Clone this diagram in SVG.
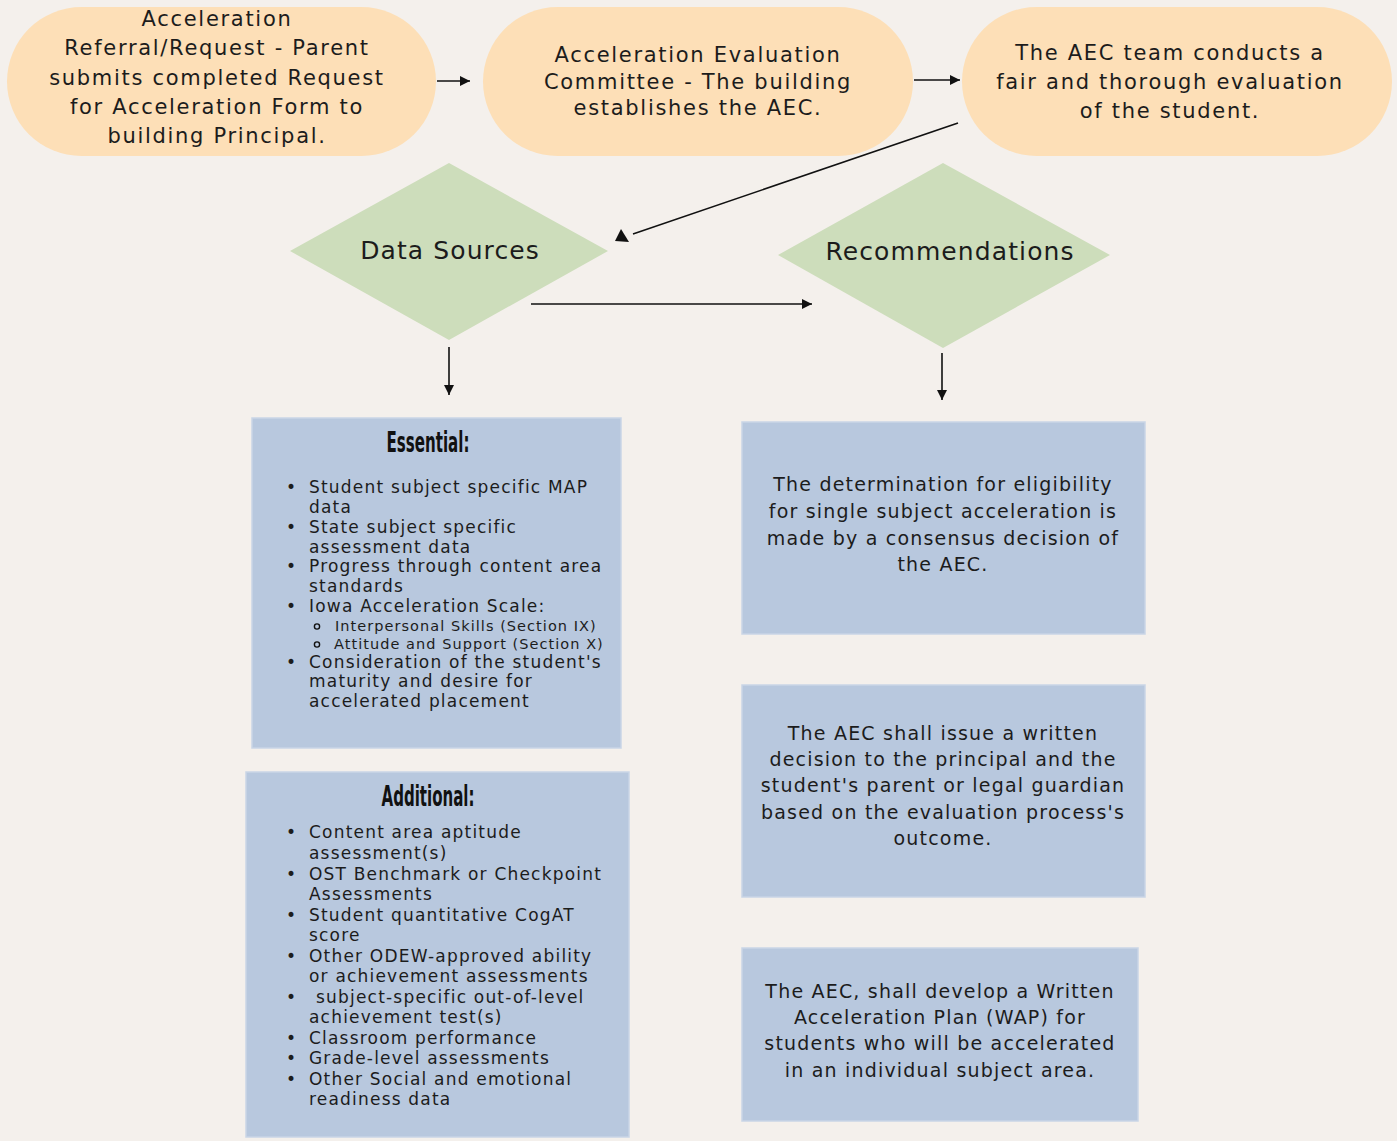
<svg xmlns="http://www.w3.org/2000/svg" width="1397" height="1141" viewBox="0 0 1397 1141">
<style>
.bg{fill:#F4F0EC}
.pill{fill:#FDDFB7}
.dia{fill:#CDDDBB}
.box{fill:#B8C8DE;stroke:#C9D5E6;stroke-width:1.5}
.t{font-family:"DejaVu Sans","Liberation Sans",sans-serif;fill:#1c1c1c}
.pt{font-size:21px;letter-spacing:1.7px;text-anchor:middle}
.dt{font-size:25px;letter-spacing:1.1px;text-anchor:middle}
.bt{font-size:17px;letter-spacing:1.2px}
.st{font-size:14.5px;letter-spacing:1.05px}
.rt{font-size:19px;letter-spacing:1.2px;text-anchor:middle}
.h{font-family:"DejaVu Sans Condensed","DejaVu Sans",sans-serif;font-weight:bold;font-size:28px;fill:#111;text-anchor:middle}
.ln{stroke:#111;stroke-width:1.6;fill:none}
</style>
<defs>
<marker id="ah" viewBox="0 0 10 10" refX="10" refY="5" markerWidth="10" markerHeight="10" markerUnits="userSpaceOnUse" orient="auto">
<path d="M0,0 L10,5 L0,10 Z" fill="#111"/>
</marker>
</defs>
<rect class="bg" x="0" y="0" width="1397" height="1141"/>

<g id="connectors">
<line class="ln" x1="437" y1="81" x2="470" y2="81" marker-end="url(#ah)"/>
<line class="ln" x1="914" y1="80" x2="960" y2="80" marker-end="url(#ah)"/>
<line class="ln" x1="958" y1="123" x2="633" y2="234"/>
<polygon points="621,229 615,241 629,242" fill="#111"/>
<line class="ln" x1="531" y1="304" x2="812" y2="304" marker-end="url(#ah)"/>
<line class="ln" x1="449" y1="347" x2="449" y2="395" marker-end="url(#ah)"/>
<line class="ln" x1="942" y1="353" x2="942" y2="400" marker-end="url(#ah)"/>
</g>

<g id="n1">
<rect class="pill" x="7" y="7" width="429" height="149" rx="74.5"/>
<text class="t pt" x="217"><tspan x="217" y="26">Acceleration</tspan><tspan x="217" y="55">Referral/Request - Parent</tspan><tspan x="217" y="85">submits completed Request</tspan><tspan x="217" y="114">for Acceleration Form to</tspan><tspan x="217" y="143">building Principal.</tspan></text>
</g>

<g id="n2">
<rect class="pill" x="483" y="7" width="430" height="149" rx="74.5"/>
<text class="t pt"><tspan x="698" y="62">Acceleration Evaluation</tspan><tspan x="698" y="89">Committee - The building</tspan><tspan x="698" y="115">establishes the AEC.</tspan></text>
</g>

<g id="n3">
<rect class="pill" x="962" y="7" width="430" height="149" rx="74.5"/>
<text class="t pt"><tspan x="1170" y="60">The AEC team conducts a</tspan><tspan x="1170" y="89">fair and thorough evaluation</tspan><tspan x="1170" y="118">of the student.</tspan></text>
</g>

<g id="n4">
<polygon class="dia" points="449,163 608,251 449,340 290,251"/>
<text class="t dt" x="450" y="259">Data Sources</text>
</g>

<g id="n5">
<polygon class="dia" points="943,163 1110,255 943,348 778,255"/>
<text class="t dt" x="950" y="260">Recommendations</text>
</g>

<g id="n6">
<rect class="box" x="252" y="418" width="369" height="330"/>
<text class="h" x="428" y="452" textLength="83" lengthAdjust="spacingAndGlyphs">Essential:</text>
<g class="t bt">
<text x="286" y="493">•</text><text x="309" y="493">Student subject specific MAP</text>
<text x="309" y="513">data</text>
<text x="286" y="533">•</text><text x="309" y="533">State subject specific</text>
<text x="309" y="553">assessment data</text>
<text x="286" y="572">•</text><text x="309" y="572">Progress through content area</text>
<text x="309" y="592">standards</text>
<text x="286" y="612">•</text><text x="309" y="612">Iowa Acceleration Scale:</text>
<text x="286" y="668">•</text><text x="309" y="668">Consideration of the student's</text>
<text x="309" y="687">maturity and desire for</text>
<text x="309" y="707">accelerated placement</text>
</g>
<circle cx="317" cy="626.5" r="2.6" fill="none" stroke="#111" stroke-width="1.4"/>
<circle cx="317" cy="644.5" r="2.6" fill="none" stroke="#111" stroke-width="1.4"/>
<g class="t st">
<text x="335" y="631">Interpersonal Skills (Section IX)</text>
<text x="334" y="649">Attitude and Support (Section X)</text>
</g>
</g>

<g id="n7">
<rect class="box" x="246" y="772" width="383" height="365"/>
<text class="h" x="428" y="806" textLength="93" lengthAdjust="spacingAndGlyphs">Additional:</text>
<g class="t bt">
<text x="286" y="838">•</text><text x="309" y="838">Content area aptitude</text>
<text x="309" y="859">assessment(s)</text>
<text x="286" y="880">•</text><text x="309" y="880">OST Benchmark or Checkpoint</text>
<text x="309" y="900">Assessments</text>
<text x="286" y="921">•</text><text x="309" y="921">Student quantitative CogAT</text>
<text x="309" y="941">score</text>
<text x="286" y="962">•</text><text x="309" y="962">Other ODEW-approved ability</text>
<text x="309" y="982">or achievement assessments</text>
<text x="286" y="1003">•</text><text x="316" y="1003">subject-specific out-of-level</text>
<text x="309" y="1023">achievement test(s)</text>
<text x="286" y="1044">•</text><text x="309" y="1044">Classroom performance</text>
<text x="286" y="1064">•</text><text x="309" y="1064">Grade-level assessments</text>
<text x="286" y="1085">•</text><text x="309" y="1085">Other Social and emotional</text>
<text x="309" y="1105">readiness data</text>
</g>
</g>

<g id="n8">
<rect class="box" x="742" y="422" width="403" height="212"/>
<text class="t rt"><tspan x="943" y="491">The determination for eligibility</tspan><tspan x="943" y="518">for single subject acceleration is</tspan><tspan x="943" y="545">made by a consensus decision of</tspan><tspan x="943" y="571">the AEC.</tspan></text>
</g>

<g id="n9">
<rect class="box" x="742" y="685" width="403" height="212"/>
<text class="t rt"><tspan x="943" y="740">The AEC shall issue a written</tspan><tspan x="943" y="766">decision to the principal and the</tspan><tspan x="943" y="792">student's parent or legal guardian</tspan><tspan x="943" y="819">based on the evaluation process's</tspan><tspan x="943" y="845">outcome.</tspan></text>
</g>

<g id="n10">
<rect class="box" x="742" y="948" width="396" height="173"/>
<text class="t rt"><tspan x="940" y="998">The AEC, shall develop a Written</tspan><tspan x="940" y="1024">Acceleration Plan (WAP) for</tspan><tspan x="940" y="1050">students who will be accelerated</tspan><tspan x="940" y="1077">in an individual subject area.</tspan></text>
</g>
</svg>
